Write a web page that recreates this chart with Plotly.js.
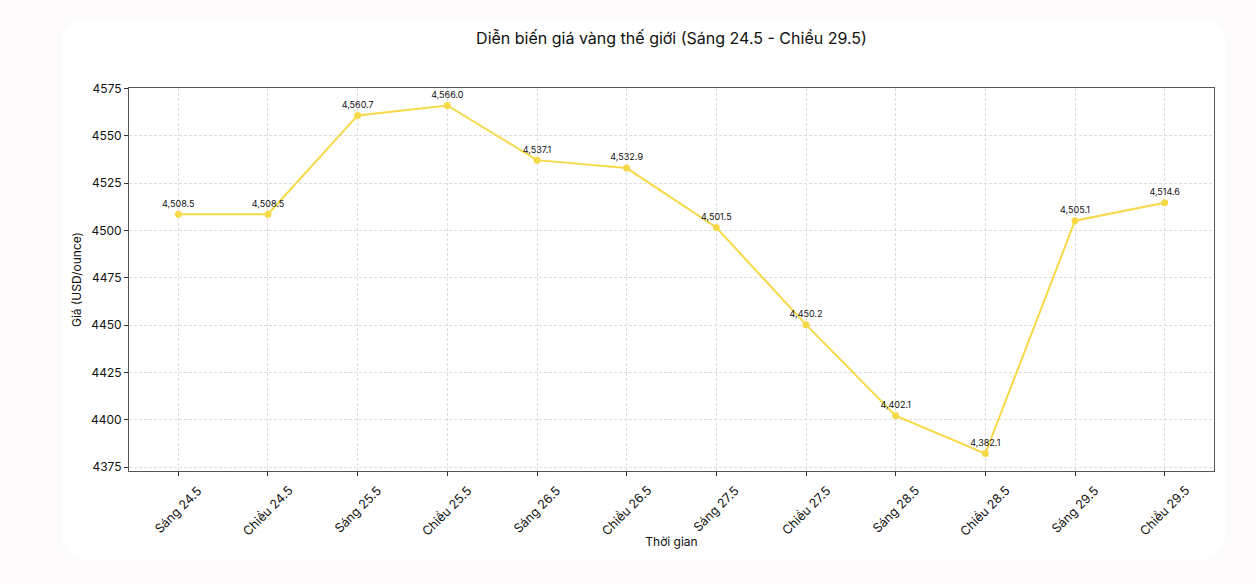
<!DOCTYPE html>
<html>
<head>
<meta charset="utf-8">
<script src="https://cdn.plot.ly/plotly-3.0.1.min.js"></script>
<style>
  body { margin: 0; background: #fcfafa; }
  #card { position: absolute; left: 62px; top: 17px; width: 1163px; height: 543px;
          background: #ffffff; border-radius: 24px; }
  #chart { position: absolute; left: 0; top: 0; width: 1256px; height: 584px; }
</style>
</head>
<body>
<div id="card"></div>
<div id="chart"></div>
<script>
// categories and gold price (USD/ounce)
const labels = ['Sáng 24.5', 'Chiều 24.5', 'Sáng 25.5', 'Chiều 25.5', 'Sáng 26.5', 'Chiều 26.5',
  'Sáng 27.5', 'Chiều 27.5', 'Sáng 28.5', 'Chiều 28.5', 'Sáng 29.5', 'Chiều 29.5'];
const prices = [4508.5, 4508.5, 4560.7, 4566.0, 4537.1, 4532.9, 4501.5, 4450.2, 4402.1, 4382.1, 4505.1, 4514.6];
const yTicks = [4375, 4400, 4425, 4450, 4475, 4500, 4525, 4550, 4575];

const fontFam = 'Inter, "Noto Sans", sans-serif';

const trace = {
  x: labels, y: prices,
  mode: 'lines+markers+text', type: 'scatter',
  line: {color: '#f7d948', width: 2},
  marker: {color: '#f7d948', size: 7},
  texttemplate: '%{y:,.1f}', textposition: 'top center',
  textfont: {family: fontFam, size: 9, color: '#111111'},
  cliponaxis: false, hoverinfo: 'x+y'
};

// rotated category labels centred under each tick (like matplotlib rotation=45)
const tickNotes = labels.map(function (lab) {
  return {
    text: lab, x: lab, xref: 'x', y: 0, yref: 'paper',
    xanchor: 'center', yanchor: 'top', yshift: -9,
    textangle: -45, showarrow: false,
    font: {family: fontFam, size: 12.5, color: '#111111'}
  };
});

const layout = {
  width: 1256, height: 584,
  margin: {l: 129, r: 42, t: 88, b: 113},
  paper_bgcolor: 'rgba(0,0,0,0)', plot_bgcolor: '#ffffff',
  showlegend: false,
  font: {family: fontFam, color: '#111111'},
  title: {text: 'Diễn biến giá vàng thế giới (Sáng 24.5 - Chiều 29.5)',
    font: {size: 16, family: fontFam, color: '#111111'},
    xref: 'paper', x: 0.5, xanchor: 'center', y: 0.935, yanchor: 'middle'},
  xaxis: {
    type: 'category', range: [-0.55, 11.55],
    showticklabels: false,
    ticks: 'outside', ticklen: 4, tickcolor: '#333',
    showline: true, linecolor: '#555', linewidth: 1, mirror: true,
    showgrid: true, gridcolor: '#dcdcdc', griddash: '3px,2px', gridwidth: 1,
    zeroline: false,
    title: {text: 'Thời gian', font: {size: 12}, standoff: 62}
  },
  yaxis: {
    range: [4372.9, 4575.2], tickvals: yTicks,
    tickfont: {size: 12},
    ticks: 'outside', ticklen: 4, tickcolor: '#333',
    showline: true, linecolor: '#555', linewidth: 1, mirror: true,
    showgrid: true, gridcolor: '#dcdcdc', griddash: '3px,2px', gridwidth: 1,
    zeroline: false,
    title: {text: 'Giá (USD/ounce)', font: {size: 12}, standoff: 6}
  },
  annotations: tickNotes
};

Plotly.newPlot('chart', [trace], layout, {displayModeBar: false, staticPlot: true});
</script>
</body>
</html>
